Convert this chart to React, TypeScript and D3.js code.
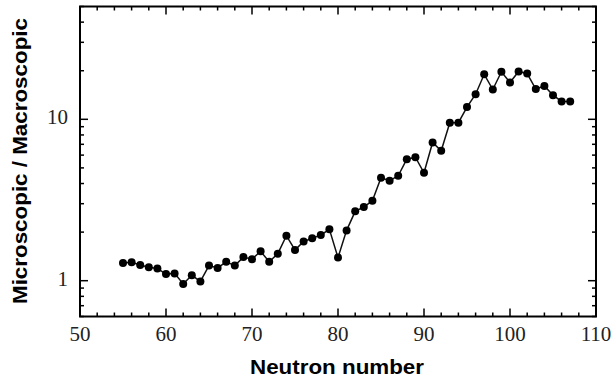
import React from "react";
import * as d3 from "d3";

// Neutron numbers and the microscopic / macroscopic ratio at each
const neutronNumbers = [
  55, 56, 57, 58, 59, 60, 61, 62, 63, 64, 65, 66, 67, 68, 69, 70, 71, 72, 73, 74,
  75, 76, 77, 78, 79, 80, 81, 82, 83, 84, 85, 86, 87, 88, 89, 90, 91, 92, 93, 94,
  95, 96, 97, 98, 99, 100, 101, 102, 103, 104, 105, 106, 107,
];
const ratios = [
  1.285, 1.3, 1.25, 1.21, 1.19, 1.1, 1.11, 0.955, 1.08, 0.99, 1.24, 1.2, 1.31, 1.24, 1.4, 1.36, 1.52, 1.31, 1.47, 1.9,
  1.55, 1.75, 1.83, 1.92, 2.08, 1.39, 2.05, 2.69, 2.86, 3.13, 4.34, 4.16, 4.47, 5.66, 5.82, 4.66, 7.18, 6.38, 9.53, 9.53,
  11.9, 14.3, 19.0, 15.3, 19.7, 16.9, 19.8, 19.2, 15.4, 16.1, 14.1, 12.9, 12.9,
];

const xTickLabels = [50, 60, 70, 80, 90, 100, 110];
const xMinorTicks = d3.range(50, 111, 2);
const yTickLabels = [1, 10];
const yMinorTicks = [0.6, 0.7, 0.8, 0.9, 2, 3, 4, 5, 6, 7, 8, 9, 20, 30, 40, 50];

const W = 614;
const H = 381;
const left = 80;
const right = 596;
const top = 6.5;
const bottom = 316.5;

export default function App() {
  const x = d3.scaleLinear().domain([50, 110]).range([left, right]);
  const y = d3.scaleLog().domain([0.6, 50]).range([bottom, top]);

  const points = neutronNumbers.map((n, i) => [n, ratios[i]] as [number, number]);
  const line = d3
    .line<[number, number]>()
    .x((d) => x(d[0]))
    .y((d) => y(d[1]));

  const majorLen = 8;
  const minorLen = 4;
  const serif = "'Liberation Serif', 'DejaVu Serif', serif";
  const sans = "'Liberation Sans', Arial, sans-serif";

  return (
    <svg
      width={W}
      height={H}
      viewBox={`0 0 ${W} ${H}`}
      style={{ position: "absolute", left: 0, top: 0, background: "#fff" }}
    >
      <g stroke="#000" strokeWidth={1.5}>
        {xMinorTicks.map((t) => {
          const len = t % 10 === 0 ? majorLen : minorLen;
          return (
            <g key={`x${t}`}>
              <line x1={x(t)} x2={x(t)} y1={bottom} y2={bottom - len} />
              <line x1={x(t)} x2={x(t)} y1={top} y2={top + len} />
            </g>
          );
        })}
        {[...yTickLabels, ...yMinorTicks].map((t) => {
          const len = yTickLabels.includes(t) ? majorLen : minorLen;
          return (
            <g key={`y${t}`}>
              <line x1={left} x2={left + len} y1={y(t)} y2={y(t)} />
              <line x1={right} x2={right - len} y1={y(t)} y2={y(t)} />
            </g>
          );
        })}
      </g>

      <rect
        x={left}
        y={top}
        width={right - left}
        height={bottom - top}
        fill="none"
        stroke="#000"
        strokeWidth={2}
      />

      <path d={line(points) ?? ""} fill="none" stroke="#111" strokeWidth={1.5} />
      {points.map((d) => (
        <circle key={d[0]} cx={x(d[0])} cy={y(d[1])} r={4} fill="#000" />
      ))}

      {xTickLabels.map((t) => (
        <text
          key={`xl${t}`}
          x={x(t)}
          y={341}
          textAnchor="middle"
          fontFamily={serif}
          fontSize={21}
          fill="#222"
        >
          {t}
        </text>
      ))}
      {yTickLabels.map((t) => (
        <text
          key={`yl${t}`}
          x={68}
          y={y(t) + 5}
          textAnchor="end"
          fontFamily={serif}
          fontSize={21}
          fill="#222"
        >
          {t}
        </text>
      ))}

      <text
        x={337}
        y={374}
        textAnchor="middle"
        fontFamily={sans}
        fontWeight="bold"
        fontSize={20}
        textLength={174}
        lengthAdjust="spacingAndGlyphs"
        fill="#000"
      >
        Neutron number
      </text>
      <text
        transform={`translate(27, 161) rotate(-90)`}
        textAnchor="middle"
        fontFamily={sans}
        fontWeight="bold"
        fontSize={20}
        textLength={286}
        lengthAdjust="spacingAndGlyphs"
        fill="#000"
      >
        Microscopic / Macroscopic
      </text>
    </svg>
  );
}
